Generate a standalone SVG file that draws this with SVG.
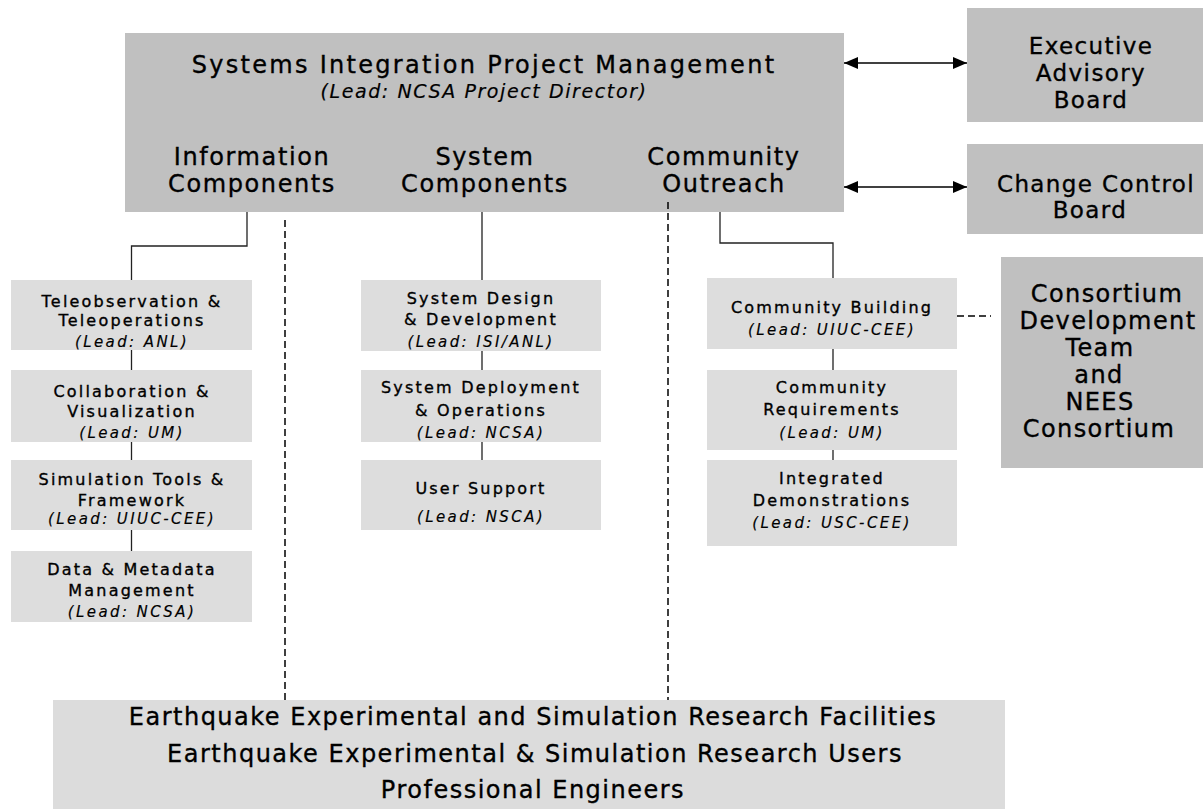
<svg xmlns="http://www.w3.org/2000/svg" width="1203" height="809" viewBox="0 0 1203 809">
  <defs>
    <marker id="arrowhead" viewBox="0 0 14 12" refX="14" refY="6" markerWidth="14" markerHeight="12" markerUnits="userSpaceOnUse" orient="auto-start-reverse">
      <path d="M0,0 L14,6 L0,12 z" fill="#000"/>
    </marker>
    <style>
      .hub { fill: #c0c0c0; }
      .task { fill: #dddddd; }
      .base { fill: #dcdcdc; }
      text { font-family: "DejaVu Sans", Verdana, sans-serif; fill: #000; stroke: #000; stroke-width: 0.35px; text-anchor: middle; }
      .h { font-size: 24px; letter-spacing: 1.6px; }
      .title { font-size: 24px; letter-spacing: 2.3px; }
      .lead { font-size: 19px; font-style: italic; letter-spacing: 1.6px; stroke-width: 0.2px; }
      .t { font-size: 16px; letter-spacing: 2.2px; }
      .tl { font-size: 15px; font-style: italic; letter-spacing: 2.4px; stroke-width: 0.15px; }
      .side { font-size: 23px; letter-spacing: 1.4px; }
      .cons { font-size: 24px; letter-spacing: 1.4px; }
      .foot { font-size: 24px; letter-spacing: 1.5px; }
      .link { fill: none; stroke: #222; stroke-width: 1.3; }
      .dash { fill: none; stroke: #000; stroke-width: 1.5; stroke-dasharray: 7 4; }
      .arrow { stroke: #000; stroke-width: 1.5; marker-start: url(#arrowhead); marker-end: url(#arrowhead); }
    </style>
  </defs>

  <rect width="1203" height="809" fill="#fff"/>

  <!-- top-level management box -->
  <g id="project-management">
    <rect class="hub" x="125" y="33" width="719" height="179"/>
    <text class="title" x="484" y="73">Systems Integration Project Management</text>
    <text class="lead" x="484" y="98">(Lead: NCSA Project Director)</text>
    <text class="h" x="252" y="165">Information</text>
    <text class="h" x="252" y="192">Components</text>
    <text class="h" x="485" y="165">System</text>
    <text class="h" x="485" y="192">Components</text>
    <text class="h" x="724" y="165">Community</text>
    <text class="h" x="724" y="192">Outreach</text>
  </g>

  <g id="executive-advisory-board">
    <rect class="hub" x="967" y="8" width="236" height="114"/>
    <text class="side" x="1091" y="54">Executive</text>
    <text class="side" x="1091" y="81">Advisory</text>
    <text class="side" x="1091" y="108">Board</text>
  </g>

  <g id="change-control-board">
    <rect class="hub" x="967" y="144" width="236" height="90"/>
    <text class="side" x="1096" y="192" letter-spacing="0.2">Change Control</text>
    <text class="side" x="1090" y="218">Board</text>
  </g>

  <g id="consortium">
    <rect class="hub" x="1001" y="257" width="202" height="211"/>
    <text class="cons" x="1107" y="302">Consortium</text>
    <text class="cons" x="1108" y="329">Development</text>
    <text class="cons" x="1100" y="356">Team</text>
    <text class="cons" x="1099" y="383">and</text>
    <text class="cons" x="1100" y="410">NEES</text>
    <text class="cons" x="1099" y="437">Consortium</text>
  </g>

  <!-- information components column -->
  <g id="teleobservation">
    <rect class="task" x="11" y="280" width="241" height="70"/>
    <text class="t" x="132" y="307">Teleobservation &amp;</text>
    <text class="t" x="132" y="326">Teleoperations</text>
    <text class="tl" x="132" y="347">(Lead: ANL)</text>
  </g>
  <g id="collaboration">
    <rect class="task" x="11" y="370" width="241" height="72"/>
    <text class="t" x="132" y="397">Collaboration &amp;</text>
    <text class="t" x="132" y="417">Visualization</text>
    <text class="tl" x="132" y="438">(Lead: UM)</text>
  </g>
  <g id="simulation-tools">
    <rect class="task" x="11" y="460" width="241" height="70"/>
    <text class="t" x="132" y="485">Simulation Tools &amp;</text>
    <text class="t" x="132" y="506">Framework</text>
    <text class="tl" x="132" y="524">(Lead: UIUC-CEE)</text>
  </g>
  <g id="data-management">
    <rect class="task" x="11" y="551" width="241" height="71"/>
    <text class="t" x="132" y="575">Data &amp; Metadata</text>
    <text class="t" x="132" y="596">Management</text>
    <text class="tl" x="132" y="617">(Lead: NCSA)</text>
  </g>

  <!-- system components column -->
  <g id="system-design">
    <rect class="task" x="361" y="280" width="240" height="71"/>
    <text class="t" x="481" y="304">System Design</text>
    <text class="t" x="481" y="325">&amp; Development</text>
    <text class="tl" x="481" y="347">(Lead: ISI/ANL)</text>
  </g>
  <g id="system-deployment">
    <rect class="task" x="361" y="370" width="240" height="72"/>
    <text class="t" x="481" y="393">System Deployment</text>
    <text class="t" x="481" y="416">&amp; Operations</text>
    <text class="tl" x="481" y="438">(Lead: NCSA)</text>
  </g>
  <g id="user-support">
    <rect class="task" x="361" y="460" width="240" height="70"/>
    <text class="t" x="481" y="494">User Support</text>
    <text class="tl" x="481" y="522">(Lead: NSCA)</text>
  </g>

  <!-- community outreach column -->
  <g id="community-building">
    <rect class="task" x="707" y="278" width="250" height="71"/>
    <text class="t" x="832" y="313">Community Building</text>
    <text class="tl" x="832" y="335">(Lead: UIUC-CEE)</text>
  </g>
  <g id="community-requirements">
    <rect class="task" x="707" y="370" width="250" height="80"/>
    <text class="t" x="832" y="393">Community</text>
    <text class="t" x="832" y="415">Requirements</text>
    <text class="tl" x="832" y="438">(Lead: UM)</text>
  </g>
  <g id="integrated-demonstrations">
    <rect class="task" x="707" y="460" width="250" height="86"/>
    <text class="t" x="832" y="484">Integrated</text>
    <text class="t" x="832" y="506">Demonstrations</text>
    <text class="tl" x="832" y="528">(Lead: USC-CEE)</text>
  </g>

  <!-- user community at the base -->
  <g id="research-community">
    <rect class="base" x="53" y="700" width="952" height="109"/>
    <text class="foot" x="533" y="725">Earthquake Experimental and Simulation Research Facilities</text>
    <text class="foot" x="535" y="762">Earthquake Experimental &amp; Simulation Research Users</text>
    <text class="foot" x="533" y="798">Professional Engineers</text>
  </g>

  <g id="connectors">
    <path class="link" d="M247,212 V246 H131.5 V280"/>
    <path class="link" d="M131.5,350 V370 M131.5,442 V460 M131.5,530 V551"/>
    <path class="link" d="M482,212 V280 M482,351 V370 M482,442 V460"/>
    <path class="link" d="M720,212 V243 H833 V278 M833,349 V370 M833,450 V460"/>
    <path class="dash" d="M285,220 V700"/>
    <path class="dash" d="M668,202 V700"/>
    <path class="dash" d="M957,316 H991" stroke-dasharray="8 4"/>
    <line class="arrow" x1="844" y1="63" x2="967" y2="63"/>
    <line class="arrow" x1="844" y1="187" x2="967" y2="187"/>
  </g>
</svg>
